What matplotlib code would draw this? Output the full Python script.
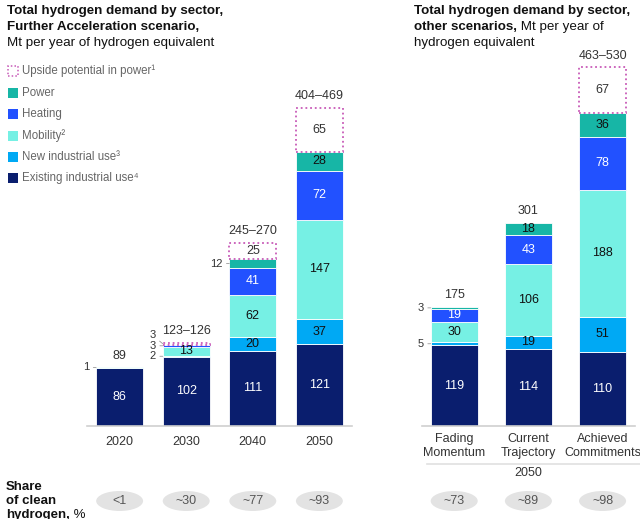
import numpy as np
import matplotlib.pyplot as plt
import matplotlib.patches as patches
import matplotlib.transforms as mtransforms
from matplotlib.lines import Line2D

plt.rcParams['font.family'] = ['Liberation Sans', 'DejaVu Sans']

# Further Acceleration scenario
fa_years = ['2020', '2030', '2040', '2050']
fa_existing = [86, 102, 111, 121]
fa_new_ind = [0, 2, 20, 37]
fa_mobility = [1, 13, 62, 147]
fa_heating = [0, 3, 41, 72]
fa_power = [0, 0, 12, 28]
fa_upside = [0, 3, 25, 65]
fa_totals = ['89', '123–126', '245–270', '404–469']
fa_clean = ['<1', '~30', '~77', '~93']

# other scenarios, 2050
os_names = ['Fading\nMomentum', 'Current\nTrajectory', 'Achieved\nCommitments']
os_existing = [119, 114, 110]
os_new_ind = [5, 19, 51]
os_mobility = [30, 106, 188]
os_heating = [19, 43, 78]
os_power = [3, 18, 36]
os_upside = [0, 0, 67]
os_totals = ['175', '301', '463–530']
os_clean = ['~73', '~89', '~98']

legend_labels = ['Upside potential in power¹', 'Power', 'Heating', 'Mobility²',
                 'New industrial use³', 'Existing industrial use⁴']

colors = ['#0A1E6E', '#00A9F4', '#76F0E4', '#2251FF', '#17B6A6']
text_colors = ['white', '#111111', '#111111', 'white', '#111111']
upside_color = '#C85BB8'

W, H = 640, 519
fig = plt.figure(figsize=(W / 100, H / 100), dpi=100)

PX = 0.677          # pixels per Mt
BASE = 426          # baseline, px from top
YMAX = 620


def fx(px):
    return px / W


def fy(py):
    return 1 - py / H


def make_axes(left, right):
    ax = fig.add_axes([fx(left), fy(BASE), fx(right - left), YMAX * PX / H])
    ax.set_ylim(0, YMAX)
    for s in ['left', 'right', 'top']:
        ax.spines[s].set_visible(False)
    ax.spines['bottom'].set_color('#d0d0d0')
    ax.spines['bottom'].set_linewidth(1.2)
    ax.set_yticks([])
    ax.tick_params(axis='x', length=0, pad=7, labelsize=9, labelcolor='#333333')
    ax.patch.set_alpha(0)
    return ax


def draw_stack(ax, names, layers, upside, totals, clean, width, px_unit):
    x = np.arange(len(names))
    bottom = np.zeros(len(names))
    small = {i: [] for i in x}
    for vals, color, tc in zip(layers, colors, text_colors):
        vals = np.array(vals, float)
        m = vals > 0
        ax.bar(x[m], vals[m], width, bottom=bottom[m], color=color,
               edgecolor='white', linewidth=0.6)
        for xi, v, b in zip(x, vals, bottom):
            if v <= 0:
                continue
            if v >= 13:
                ax.text(xi, b + v / 2, f'{v:g}', ha='center', va='center',
                        color=tc, fontsize=9)
            else:
                small[xi].append((b + v / 2, v))
        bottom += vals

    up = np.array(upside, float)
    m = up > 0
    ax.bar(x[m], up[m], width, bottom=bottom[m], facecolor='white',
           edgecolor=upside_color, linestyle=(0, (1, 1.6)), linewidth=1.3)
    for xi, v, b in zip(x, up, bottom):
        if v <= 0:
            continue
        if v >= 13:
            ax.text(xi, b + v / 2, f'{v:g}', ha='center', va='center',
                    color='#333333', fontsize=9)
        else:
            small[xi].append((b + v / 2, v))

    # small values written left of the bar with a short leader
    gap = 15.5
    for xi, items in small.items():
        last = -1e9
        for mid, v in sorted(items):
            ly = max(mid, last + gap)
            last = ly
            left = xi - width / 2
            ax.annotate(f'{v:g}', xy=(left, mid), xytext=(left - 7 / px_unit, ly),
                        ha='right', va='center', fontsize=8, color='#333333',
                        arrowprops=dict(arrowstyle='-', color='#999999', lw=0.6,
                                        shrinkA=1, shrinkB=0),
                        annotation_clip=False)

    for xi, t, top in zip(x, totals, bottom + up):
        ax.annotate(t, xy=(xi, top), xytext=(0, 4), textcoords='offset points',
                    ha='center', va='bottom', fontsize=9, color='#333333')

    ax.set_xticks(x)
    ax.set_xticklabels(names)

    # share of clean hydrogen ovals
    tr = mtransforms.blended_transform_factory(ax.transData, fig.transFigure)
    for xi, c in zip(x, clean):
        ax.add_patch(patches.Ellipse((xi, fy(501)), width, 20 / H, transform=tr,
                                     facecolor='#e3e3e3', edgecolor='none',
                                     clip_on=False))
        ax.text(xi, fy(501), c, transform=tr, ha='center', va='center',
                fontsize=9, color='#555555')


axL = make_axes(87, 352)
axL.set_xlim(-0.49, 3.49)
draw_stack(axL, fa_years,
           [fa_existing, fa_new_ind, fa_mobility, fa_heating, fa_power],
           fa_upside, fa_totals, fa_clean, 0.705, 66.6)

axR = make_axes(421.7, 635)
axR.set_xlim(-0.438, 2.437)
draw_stack(axR, os_names,
           [os_existing, os_new_ind, os_mobility, os_heating, os_power],
           os_upside, os_totals, os_clean, 0.634, 74.2)
axR.tick_params(axis='x', pad=5)

fig.add_artist(Line2D([fx(427), fx(640)], [fy(463.5), fy(463.5)],
                      color='#e0e0e0', lw=1.2))
fig.text(fx(528), fy(473), '2050', ha='center', va='center', fontsize=9,
         color='#333333')

# titles
title_kw = dict(fontsize=9.6, color='#111111', va='center')
fig.text(fx(7), fy(11), 'Total hydrogen demand by sector,', weight='bold', **title_kw)
fig.text(fx(7), fy(27), 'Further Acceleration scenario,', weight='bold', **title_kw)
fig.text(fx(7), fy(43), 'Mt per year of hydrogen equivalent', **title_kw)

fig.text(fx(414), fy(11), 'Total hydrogen demand by sector,', weight='bold', **title_kw)
t2 = fig.text(fx(414), fy(27), 'other scenarios,', weight='bold', **title_kw)
axR.annotate(' Mt per year of', xy=(1, 0), xycoords=t2, va='bottom', ha='left',
             fontsize=9.6, color='#111111', annotation_clip=False)
fig.text(fx(414), fy(43), 'hydrogen equivalent', **title_kw)

# legend
leg_rows = [71, 93, 114, 136, 157, 178]
leg_fill = [None, colors[4], colors[3], colors[2], colors[1], colors[0]]
for lab, row, col in zip(legend_labels, leg_rows, leg_fill):
    if col is None:
        sq = patches.Rectangle((fx(8), fy(row + 5)), fx(10), 10 / H, transform=fig.transFigure,
                               facecolor='white', edgecolor=upside_color,
                               linestyle=(0, (1, 1.4)), linewidth=1.1)
    else:
        sq = patches.Rectangle((fx(8), fy(row + 5)), fx(10), 10 / H, transform=fig.transFigure,
                               facecolor=col, edgecolor='none')
    fig.add_artist(sq)
    fig.text(fx(22), fy(row), lab, fontsize=8.3, color='#666666', va='center')

# share of clean hydrogen label
share_kw = dict(fontsize=9.5, color='#111111', va='center')
fig.text(fx(6), fy(487), 'Share', weight='bold', **share_kw)
fig.text(fx(6), fy(501), 'of clean', weight='bold', **share_kw)
t3 = fig.text(fx(6), fy(515), 'hydrogen,', weight='bold', **share_kw)
axL.annotate(' %', xy=(1, 0), xycoords=t3, va='bottom', ha='left',
             fontsize=9.5, color='#111111', annotation_clip=False)

fig.savefig('out.png', dpi=100)
